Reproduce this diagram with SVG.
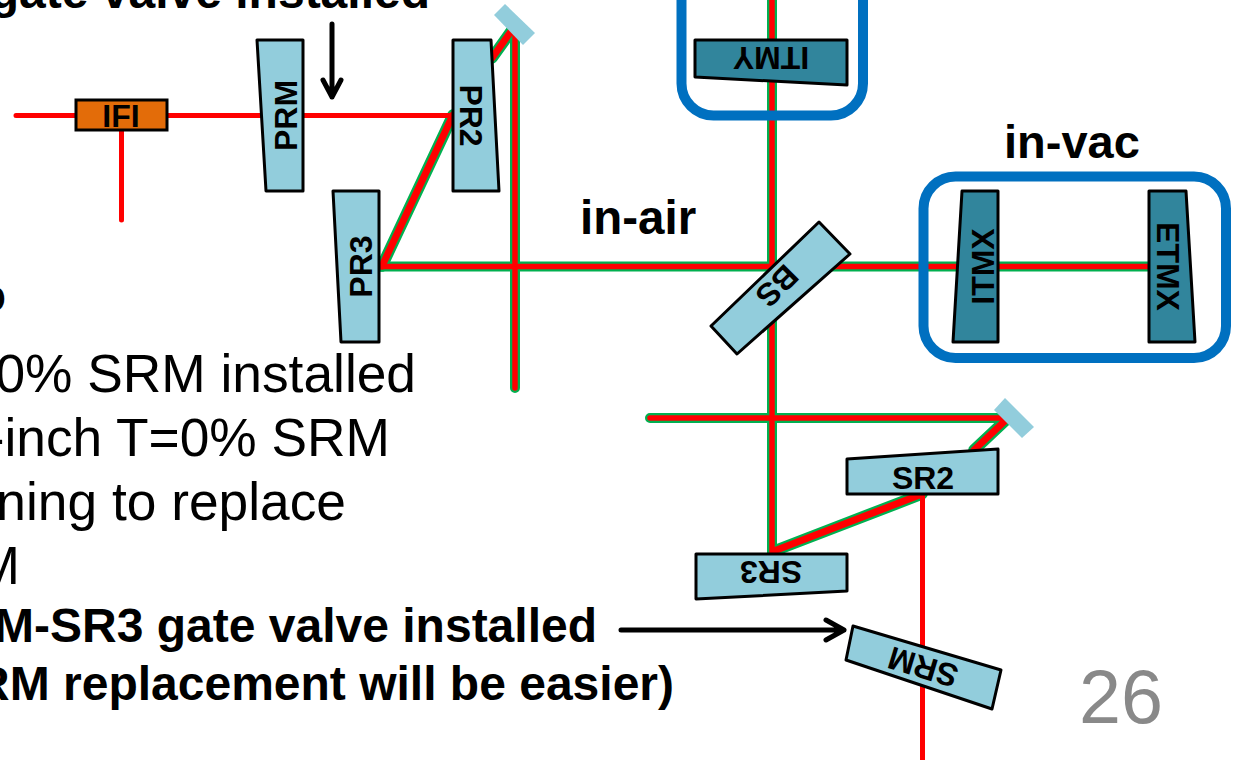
<svg xmlns="http://www.w3.org/2000/svg" width="1234" height="760" viewBox="0 0 1234 760">
<style>
text{font-family:"Liberation Sans",Arial,sans-serif;fill:#000}
.b{font-weight:bold}
.lab{font-weight:bold;font-size:32px;text-anchor:middle;dominant-baseline:central}
.big{font-size:53.300px;text-anchor:end}
.bold{font-weight:bold;font-size:48px;text-anchor:end}
.m{fill:#92CDDC;stroke:#000;stroke-width:3;stroke-linejoin:round}
.d{fill:#31859C;stroke:#000;stroke-width:3;stroke-linejoin:round}
.g{fill:none;stroke:#00B050;stroke-width:10;stroke-linecap:round;stroke-linejoin:round}
.r{fill:none;stroke:#F00;stroke-width:5.500;stroke-linecap:round;stroke-linejoin:round}
.gd{fill:none;stroke:#00B050;stroke-width:11.500;stroke-linecap:round}
.rd{fill:none;stroke:#F00;stroke-width:7;stroke-linecap:round}
.s{fill:none;stroke:#F00;stroke-width:5;stroke-linecap:round}
.vac{fill:none;stroke:#0070C0;stroke-width:10}
.a{fill:none;stroke:#000;stroke-width:5;stroke-linecap:round;stroke-linejoin:round}
</style>
<g id="connectors">
<path class="gd" d="M382 266L453 115M492 58L512 30M774 551L922 494M974 450L1008 418"/>
<path class="g" d="M772-10V553M380 266.500H1150M515 35V388M650 418H1006"/>
<path class="rd" d="M382 266L453 115M492 58L512 30M774 551L922 494M974 450L1008 418"/>
<path class="r" d="M772-10V553M380 266.500H1150M515 35V388M650 418H1006"/>
<path class="s" d="M16 115.500H453M121.500 130V220M922.500 494V765"/>
</g>
<g id="in-vac-y"><rect class="vac" x="681.500" y="-40" width="181.500" height="155.500" rx="32"/></g>
<g id="in-vac-x"><rect class="vac" x="923.500" y="176.500" width="302.500" height="181.500" rx="32"/></g>
<g id="pr-fold"><polygon points="505,4 535,33 523,45 494,15" fill="#92CDDC"/></g>
<g id="sr-fold"><polygon points="1005,398 1034,427 1022,438 994,410" fill="#92CDDC"/></g>
<g id="IFI"><rect x="76" y="100" width="91" height="30" fill="#E36C09" stroke="#000" stroke-width="3"/><text class="lab" x="121" y="116">IFI</text></g>
<g id="PRM"><polygon class="m" points="257,40 303,40 303,191 266,191"/><text class="lab" transform="translate(285.500,115.500) rotate(-90)">PRM</text></g>
<g id="PR2"><polygon class="m" points="453,40 491,40 499,191 453,191"/><text class="lab" transform="translate(471,115.500) rotate(90)">PR2</text></g>
<g id="PR3"><polygon class="m" points="333,191 379,191 379,342 341,342"/><text class="lab" transform="translate(360.500,266.500) rotate(-90)">PR3</text></g>
<g id="ITMY"><polygon class="d" points="695,40 847,40 847,85 695,77"/><text class="lab" transform="translate(771,57.500) rotate(180)">ITMY</text></g>
<g id="ITMX"><polygon class="d" points="962,191 998,191 998,342 953,342"/><text class="lab" transform="translate(982.500,266.500) rotate(-90)">ITMX</text></g>
<g id="ETMX"><polygon class="d" points="1149,191 1186,191 1195,342 1149,342"/><text class="lab" transform="translate(1167.500,266.500) rotate(90)">ETMX</text></g>
<g id="BS"><polygon class="m" points="819,222 850,254 737,354 711,326"/><text class="lab" transform="translate(777,286) rotate(135)">BS</text></g>
<g id="SR2"><polygon class="m" points="847,459 998,449 998,494 847,494"/><text class="lab" x="923" y="477.500">SR2</text></g>
<g id="SR3"><polygon class="m" points="696,554 847,554 847,591 696,599"/><text class="lab" transform="translate(771,572) rotate(180)">SR3</text></g>
<g id="SRM"><polygon class="m" points="853,626 1001,670 992,709 846,660"/><text class="lab" transform="translate(923,667) rotate(197)">SRM</text></g>
<g id="arrows">
<path class="a" d="M332 24V97M323 80L332 97L341 80"/>
<path class="a" d="M621 630H844M826 620L844 630L826 640"/>
</g>
<g id="labels">
<text class="b" x="580" y="234" font-size="47.500">in-air</text>
<text class="b" x="1004" y="158" font-size="47">in-vac</text>
<text x="1079" y="723" font-size="75.500" style="fill:#898989">26</text>
<text class="bold" x="430" y="8">gate valve installed</text>
<text class="big" x="416" y="392">0% SRM installed</text>
<text class="big" x="390" y="456">-inch T=0% SRM</text>
<text class="big" x="346" y="520">ning to replace</text>
<text class="big" x="20" y="584">M</text>
<text class="bold" x="597" y="642">M-SR3 gate valve installed</text>
<text class="bold" x="674" y="700">RM replacement will be easier)</text>
<text class="b" x="6" y="312" font-size="48" text-anchor="end">o</text>
</g>
</svg>
